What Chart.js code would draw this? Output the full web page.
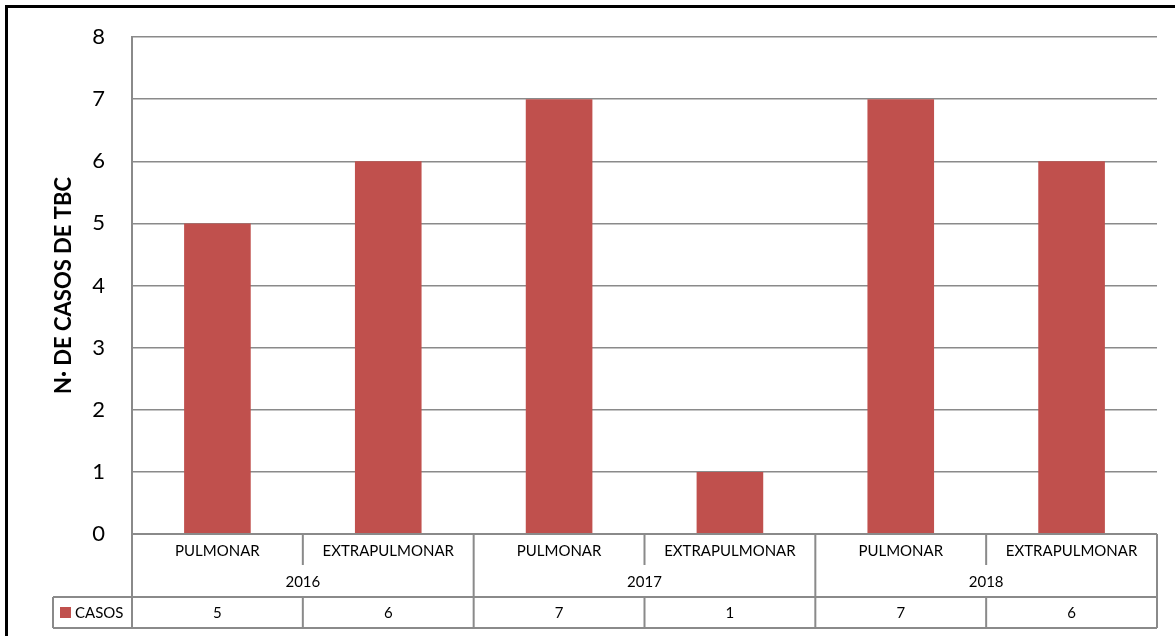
<!DOCTYPE html>
<html lang="es">
<head>
    <meta charset="UTF-8">
    <title>Casos de TBC</title>
    <script src="https://cdn.jsdelivr.net/npm/chart.js"></script>
    <style>
        html, body { margin: 0; padding: 0; background: #fff; overflow: hidden; }
        #wrap { position: relative; width: 1175px; height: 636px; overflow: hidden; }
        #frame { position: absolute; left: 5px; top: 5px; width: 1400px; height: 900px; border-left: 3px solid #000; border-top: 3px solid #000; box-sizing: border-box; pointer-events: none; }
        canvas { position: absolute; left: 0; top: 0; }
    </style>
</head>
<body>
    <div id="wrap">
        <canvas id="barChart" width="1175" height="636"></canvas>
        <div id="frame"></div>
    </div>
    <script>
        // datos
        const categories = ['PULMONAR', 'EXTRAPULMONAR', 'PULMONAR', 'EXTRAPULMONAR', 'PULMONAR', 'EXTRAPULMONAR'];
        const years = ['2016', '2017', '2018'];
        const casos = [5, 6, 7, 1, 7, 6];
        const yTicks = [0, 1, 2, 3, 4, 5, 6, 7, 8];
        const seriesName = 'CASOS';

        const barColor = '#C0504D';
        const lineColor = '#8a8a8a';
        const fontFamily = 'Lato, "Open Sans", sans-serif';

        // tabla de datos debajo del eje x
        const dataTable = {
            id: 'dataTable',
            afterDraw(chart) {
                const { ctx, scales: { x }, chartArea: area } = chart;
                const half = (x.getPixelForValue(1) - x.getPixelForValue(0)) / 2;
                const edge = i => x.getPixelForValue(i) - half;
                const top = area.bottom;
                const subBottom = top + 31;
                const yearBottom = top + 63;
                const rowBottom = top + 94;
                const legendLeft = 53;

                ctx.save();
                ctx.strokeStyle = lineColor;
                ctx.lineWidth = 2;
                ctx.beginPath();
                ctx.moveTo(area.left, top); ctx.lineTo(area.right, top);
                ctx.moveTo(legendLeft, yearBottom); ctx.lineTo(area.right, yearBottom);
                ctx.moveTo(legendLeft, rowBottom); ctx.lineTo(area.right, rowBottom);
                ctx.moveTo(legendLeft, yearBottom); ctx.lineTo(legendLeft, rowBottom);
                for (let i = 0; i <= categories.length; i++) {
                    const px = edge(i);
                    if (i % 2 === 0) {
                        ctx.moveTo(px, top); ctx.lineTo(px, rowBottom);
                    } else {
                        ctx.moveTo(px, top); ctx.lineTo(px, subBottom);
                        ctx.moveTo(px, yearBottom); ctx.lineTo(px, rowBottom);
                    }
                }
                ctx.stroke();

                ctx.fillStyle = '#000';
                ctx.font = '15px ' + fontFamily;
                ctx.textAlign = 'center';
                ctx.textBaseline = 'middle';
                categories.forEach((c, i) => {
                    const cx = x.getPixelForValue(i);
                    ctx.fillText(c, cx, top + 17);
                    ctx.fillText(String(casos[i]), cx, top + 79);
                });
                years.forEach((yr, j) => {
                    const cx = (x.getPixelForValue(2 * j) + x.getPixelForValue(2 * j + 1)) / 2;
                    ctx.fillText(yr, cx, top + 48);
                });

                // leyenda
                ctx.fillStyle = barColor;
                ctx.fillRect(60, top + 73, 11, 11);
                ctx.fillStyle = '#000';
                ctx.textAlign = 'left';
                ctx.fillText(seriesName, 75, top + 79);
                ctx.restore();
            }
        };

        new Chart(document.getElementById('barChart'), {
            type: 'bar',
            data: {
                labels: categories,
                datasets: [{
                    label: seriesName,
                    data: casos,
                    backgroundColor: barColor,
                    barPercentage: 0.39,
                    categoryPercentage: 1
                }]
            },
            options: {
                responsive: false,
                animation: false,
                layout: { padding: { top: 37, right: 18, bottom: 102, left: 0 } },
                plugins: {
                    legend: { display: false },
                    tooltip: { enabled: false }
                },
                scales: {
                    x: {
                        grid: { display: false, drawTicks: false },
                        ticks: { display: false },
                        border: { display: false }
                    },
                    y: {
                        min: 0,
                        max: 8,
                        afterBuildTicks: s => { s.ticks = yTicks.map(v => ({ value: v })); },
                        ticks: { padding: 27, color: '#000', font: { family: fontFamily, size: 22 } },
                        grid: { color: lineColor, lineWidth: 1.5, drawTicks: false },
                        border: { color: lineColor, width: 2 },
                        title: {
                            display: true,
                            text: 'N· DE CASOS DE TBC',
                            color: '#000',
                            font: { family: fontFamily, size: 22, weight: 'bold' },
                            padding: { top: 51, bottom: 0 }
                        },
                        afterFit: s => {
                            s.width = 132;
                            // el padding de las etiquetas no debe empujar el área del gráfico
                            s.paddingTop = 0;
                            s.paddingBottom = 0;
                        }
                    }
                }
            },
            plugins: [dataTable]
        });
    </script>
</body>
</html>
